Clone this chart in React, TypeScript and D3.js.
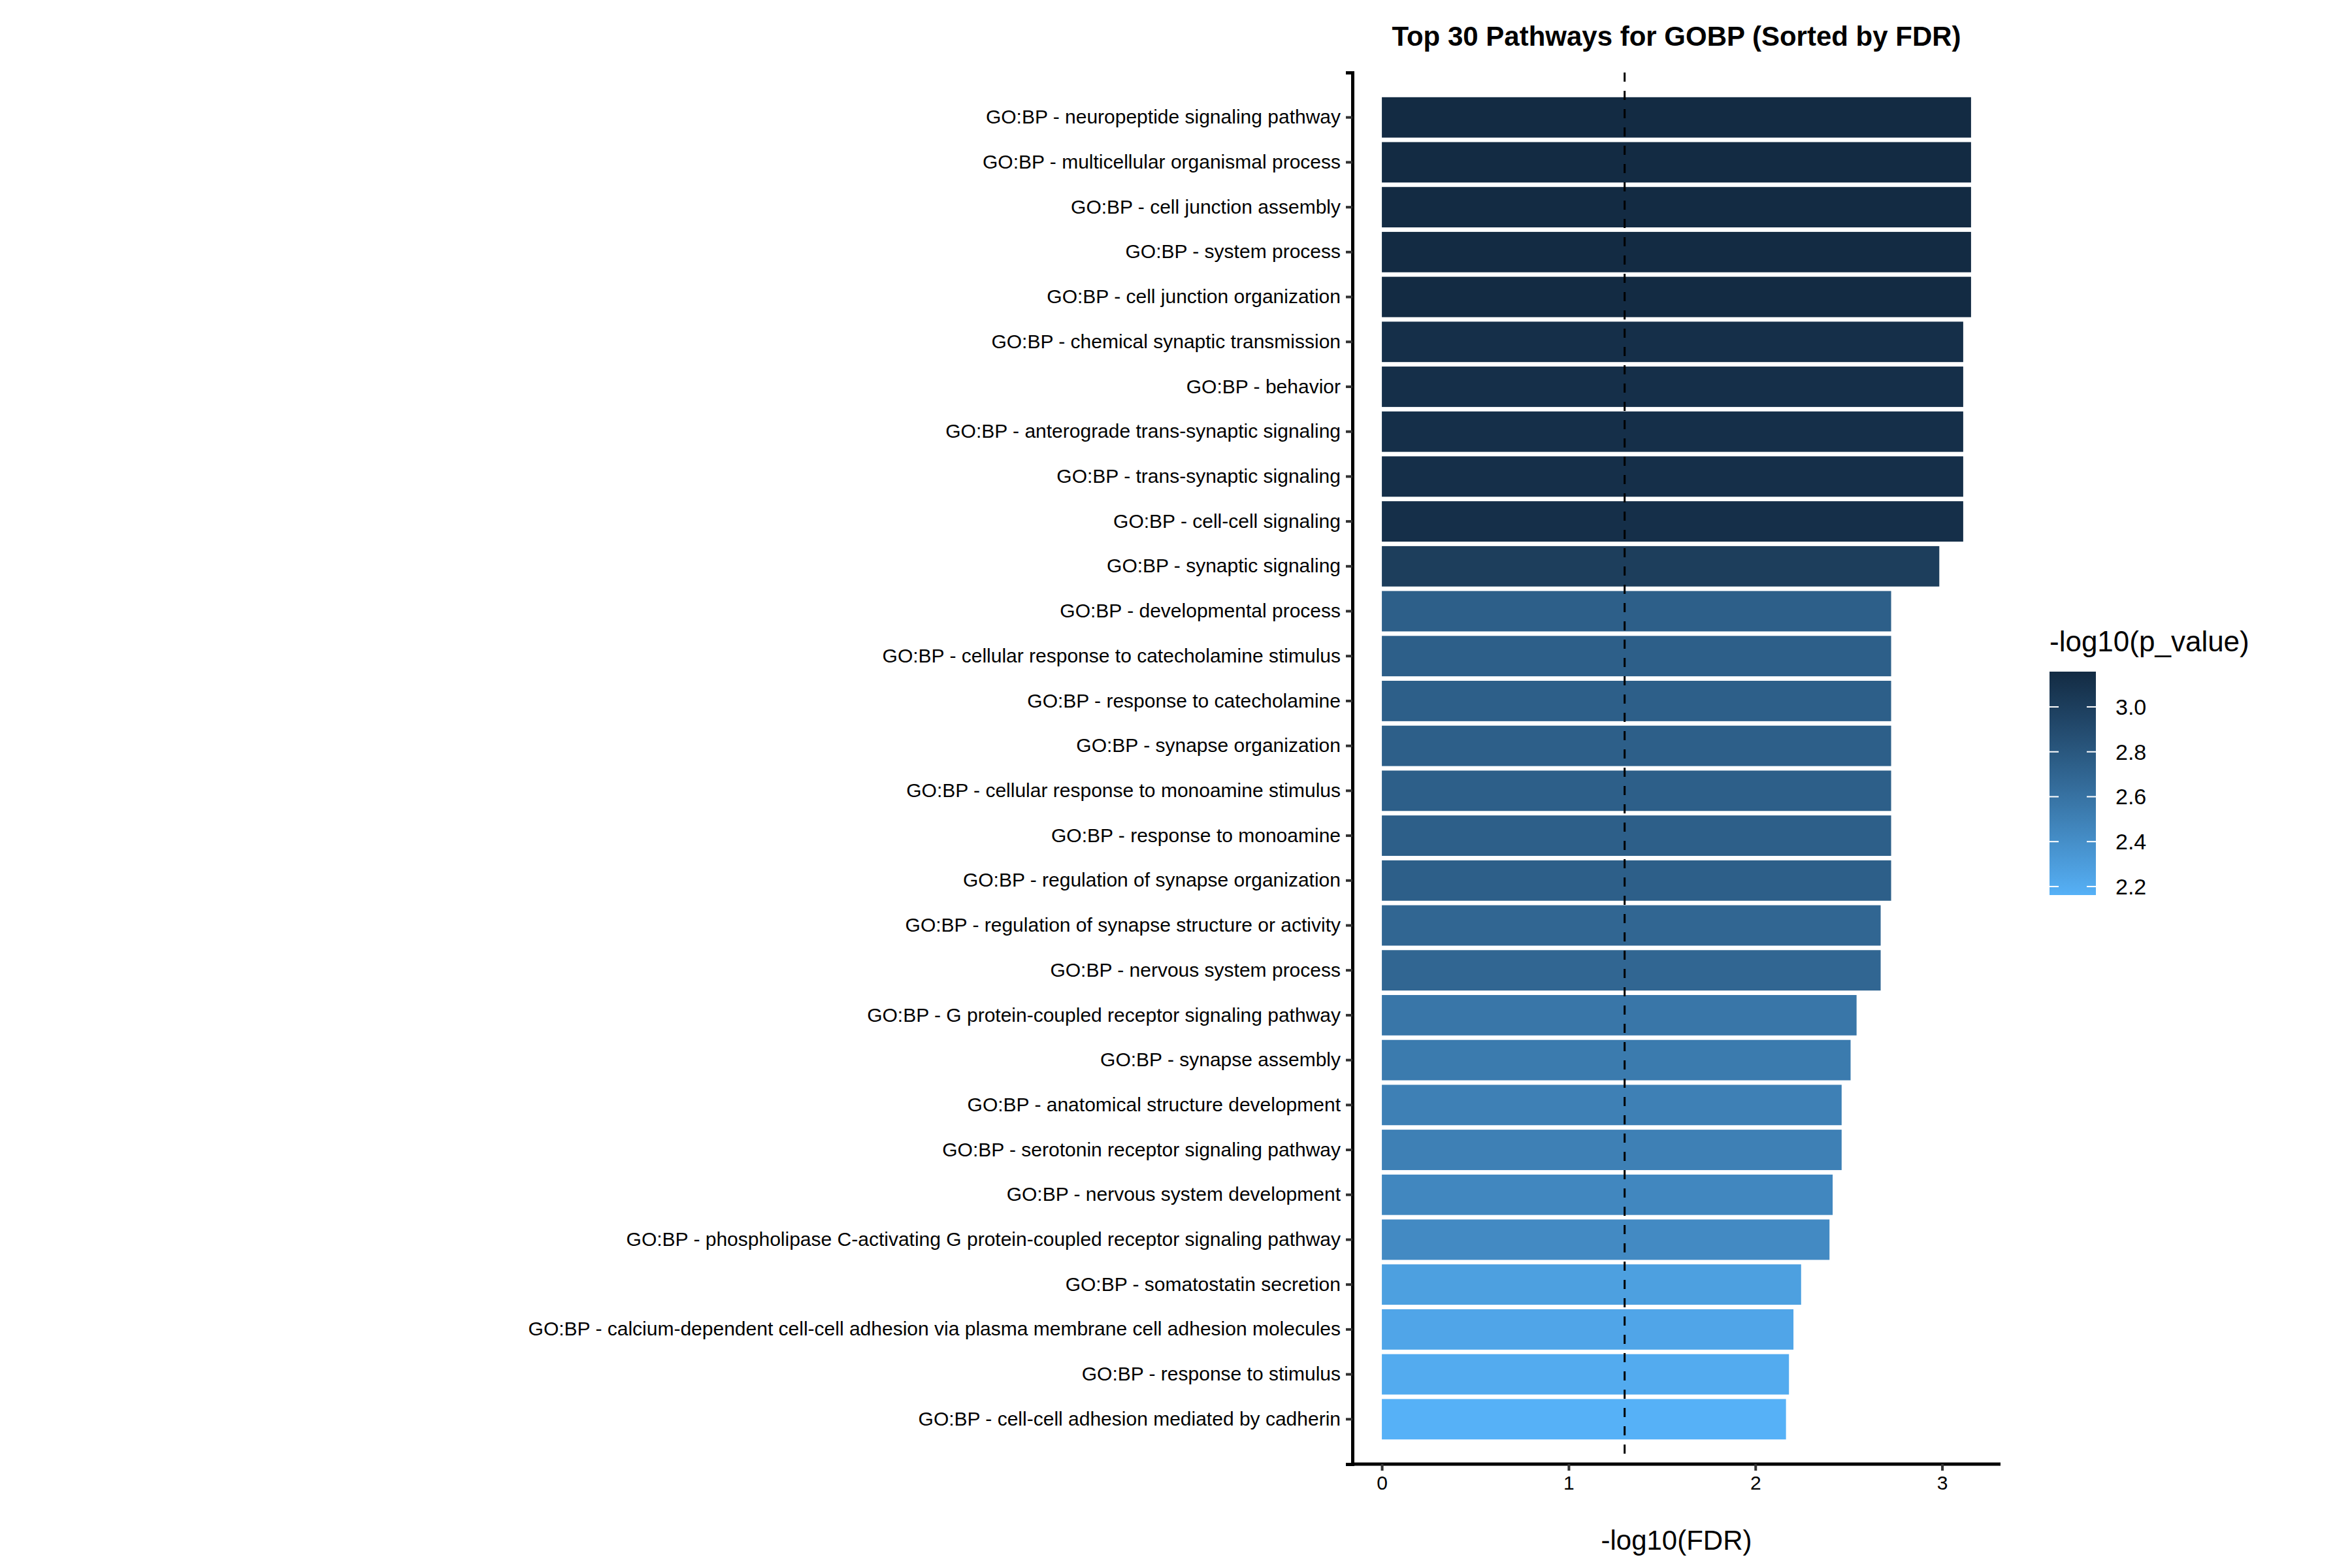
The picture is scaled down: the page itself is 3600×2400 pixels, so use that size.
import * as d3 from 'd3';
import React, { useEffect, useRef } from 'react';

const pathways = [
  'neuropeptide signaling pathway',
  'multicellular organismal process',
  'cell junction assembly',
  'system process',
  'cell junction organization',
  'chemical synaptic transmission',
  'behavior',
  'anterograde trans-synaptic signaling',
  'trans-synaptic signaling',
  'cell-cell signaling',
  'synaptic signaling',
  'developmental process',
  'cellular response to catecholamine stimulus',
  'response to catecholamine',
  'synapse organization',
  'cellular response to monoamine stimulus',
  'response to monoamine',
  'regulation of synapse organization',
  'regulation of synapse structure or activity',
  'nervous system process',
  'G protein-coupled receptor signaling pathway',
  'synapse assembly',
  'anatomical structure development',
  'serotonin receptor signaling pathway',
  'nervous system development',
  'phospholipase C-activating G protein-coupled receptor signaling pathway',
  'somatostatin secretion',
  'calcium-dependent cell-cell adhesion via plasma membrane cell adhesion molecules',
  'response to stimulus',
  'cell-cell adhesion mediated by cadherin',
];

const fdrValues = [
  3.155, 3.155, 3.155, 3.155, 3.155, 3.113, 3.113, 3.113, 3.113, 3.113,
  2.985, 2.727, 2.727, 2.727, 2.727, 2.727, 2.727, 2.727, 2.671, 2.671,
  2.542, 2.51, 2.462, 2.462, 2.414, 2.397, 2.245, 2.204, 2.18, 2.164,
];

const pValues = [
  3.157, 3.157, 3.157, 3.157, 3.157, 3.12, 3.12, 3.12, 3.12, 3.12,
  3.0, 2.74, 2.74, 2.74, 2.74, 2.74, 2.74, 2.74, 2.69, 2.69,
  2.57, 2.54, 2.5, 2.5, 2.45, 2.43, 2.28, 2.24, 2.2, 2.162,
];

const legendTicks = [2.2, 2.4, 2.6, 2.8, 3.0];

const W = 3600;
const H = 2400;
const left = 2070;
const right = 3062;
const top = 111;
const bottom = 2241;
const font = '"Liberation Sans", Arial, sans-serif';

const App = () => {
  const ref = useRef<SVGSVGElement>(null);

  useEffect(() => {
    const svg = d3.select(ref.current);
    svg.selectAll('*').remove();

    const pMin = d3.min(pValues)!;
    const pMax = d3.max(pValues)!;
    const color = d3.scaleLinear<string>().domain([pMin, pMax])
      .range(['#56B1F7', '#132B43']).interpolate(d3.interpolateLab);

    const xMax = d3.max(fdrValues)!;
    const x = d3.scaleLinear().domain([-0.05 * xMax, xMax * 1.05]).range([left, right]);
    const y = d3.scaleBand().domain(pathways).range([top, bottom])
      .paddingInner(0.1).paddingOuter(0.55);

    const g = svg.append('g');
    g.selectAll('rect.bar')
      .data(pathways)
      .enter()
      .append('rect')
      .attr('class', 'bar')
      .attr('x', x(0))
      .attr('y', (d) => y(d)!)
      .attr('width', (_, i) => x(fdrValues[i]) - x(0))
      .attr('height', y.bandwidth())
      .attr('fill', (_, i) => color(pValues[i]));

    g.append('line')
      .attr('x1', x(1.3)).attr('x2', x(1.3))
      .attr('y1', top).attr('y2', bottom)
      .attr('stroke', '#000').attr('stroke-width', 3)
      .attr('stroke-dasharray', '14 14');

    // y axis
    const yAxis = g.append('g').attr('transform', `translate(${left},0)`)
      .call(d3.axisLeft(y).tickSize(10).tickPadding(8).tickFormat((d) => `GO:BP - ${d}`));
    yAxis.select('.domain').attr('stroke', '#000').attr('stroke-width', 5);
    yAxis.selectAll('.tick line').attr('stroke', '#333').attr('stroke-width', 4);
    yAxis.selectAll('.tick text').attr('fill', '#000')
      .style('font-size', '30px').style('font-family', font);

    // x axis
    const xAxis = g.append('g').attr('transform', `translate(0,${bottom})`)
      .call(d3.axisBottom(x).tickValues([0, 1, 2, 3]).tickSize(10).tickPadding(8).tickFormat(d3.format('d')));
    xAxis.select('.domain').attr('stroke', '#000').attr('stroke-width', 5)
      .attr('d', `M${left},0H${right}`);
    xAxis.selectAll('.tick line').attr('stroke', '#333').attr('stroke-width', 4);
    xAxis.selectAll('.tick text').attr('fill', '#000')
      .style('font-size', '30px').style('font-family', font);

    svg.append('text')
      .attr('x', (left + right) / 2).attr('y', 2372)
      .attr('text-anchor', 'middle')
      .style('font-size', '42px').style('font-family', font)
      .text('-log10(FDR)');

    svg.append('text')
      .attr('x', (left + right) / 2).attr('y', 70)
      .attr('text-anchor', 'middle')
      .style('font-size', '42px').style('font-weight', 'bold').style('font-family', font)
      .text('Top 30 Pathways for GOBP (Sorted by FDR)');

    // legend
    const lx = 3137;
    const ly0 = 1028;
    const ly1 = 1370;
    const lw = 71;
    const defs = svg.append('defs');
    const grad = defs.append('linearGradient').attr('id', 'pgrad')
      .attr('x1', 0).attr('x2', 0).attr('y1', 1).attr('y2', 0);
    d3.range(0, 1.0001, 0.1).forEach((t) => {
      grad.append('stop').attr('offset', t).attr('stop-color', color(pMin + t * (pMax - pMin)));
    });
    svg.append('rect').attr('x', lx).attr('y', ly0).attr('width', lw).attr('height', ly1 - ly0)
      .attr('fill', 'url(#pgrad)');
    const ly = d3.scaleLinear().domain([pMin, pMax]).range([ly1, ly0]);
    const lg = svg.append('g');
    legendTicks.forEach((t) => {
      const yy = ly(t);
      lg.append('line').attr('x1', lx).attr('x2', lx + 14).attr('y1', yy).attr('y2', yy)
        .attr('stroke', '#fff').attr('stroke-width', 2);
      lg.append('line').attr('x1', lx + lw - 14).attr('x2', lx + lw).attr('y1', yy).attr('y2', yy)
        .attr('stroke', '#fff').attr('stroke-width', 2);
      lg.append('text').attr('x', lx + lw + 30).attr('y', yy).attr('dy', '0.35em')
        .style('font-size', '34px').style('font-family', font)
        .text(t.toFixed(1));
    });
    svg.append('text').attr('x', lx).attr('y', 997)
      .style('font-size', '44px').style('font-family', font)
      .text('-log10(p_value)');
  }, []);

  return (
    <svg ref={ref} width={W} height={H}
      style={{ position: 'absolute', left: 0, top: 0, background: '#fff' }} />
  );
};

export default App;
